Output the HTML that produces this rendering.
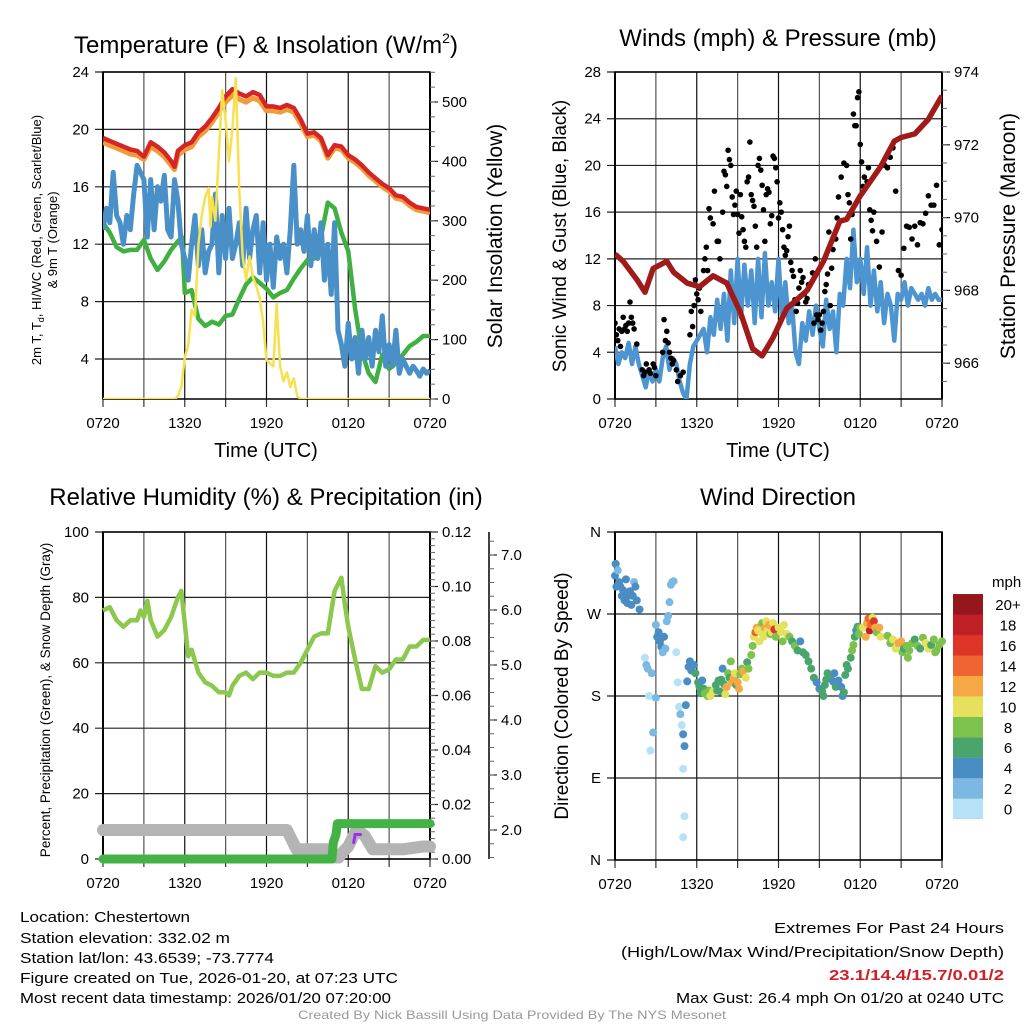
<!DOCTYPE html>
<html><head><meta charset="utf-8">
<style>
html,body{margin:0;padding:0;background:#fff;}
svg{display:block;font-family:"Liberation Sans",Arial,sans-serif;}
</style></head>
<body>
<svg id="fig" xmlns="http://www.w3.org/2000/svg" width="1024" height="1024" viewBox="0 0 1024 1024">
<rect width="1024" height="1024" fill="#fff"/>
<text x="266" y="53" font-size="24" text-anchor="middle">Temperature (F) &amp; Insolation (W/m<tspan font-size="14" dy="-10">2</tspan><tspan dy="10">)</tspan></text>
<text x="778" y="46" font-size="24" text-anchor="middle">Winds (mph) &amp; Pressure (mb)</text>
<text x="266" y="505" font-size="24" text-anchor="middle">Relative Humidity (%) &amp; Precipitation (in)</text>
<text x="778" y="505" font-size="24" text-anchor="middle">Wind Direction</text>

<text x="266" y="457" font-size="20" text-anchor="middle">Time (UTC)</text>
<text x="778" y="457" font-size="20" text-anchor="middle">Time (UTC)</text>

<text transform="translate(41,240) rotate(-90)" font-size="13" text-anchor="middle">2m T, T<tspan font-size="9" dy="3">d</tspan><tspan dy="-3">, HI/WC (Red, Green, Scarlet/Blue)</tspan></text>
<text transform="translate(57,240) rotate(-90)" font-size="13" text-anchor="middle">&amp; 9m T (Orange)</text>
<text transform="translate(502,236) rotate(-90)" font-size="21" text-anchor="middle">Solar Insolation (Yellow)</text>
<text transform="translate(566,236) rotate(-90)" font-size="19" text-anchor="middle">Sonic Wind &amp; Gust (Blue, Black)</text>
<text transform="translate(1015,236) rotate(-90)" font-size="21" text-anchor="middle">Station Pressure (Maroon)</text>
<text transform="translate(50,700) rotate(-90)" font-size="13.5" text-anchor="middle">Percent, Precipitation (Green), &amp; Snow Depth (Gray)</text>
<text transform="translate(568,696) rotate(-90)" font-size="19" text-anchor="middle">Direction (Colored By Speed)</text>

<g id="info" font-size="15">
<text x="20" y="922" textLength="170" lengthAdjust="spacingAndGlyphs">Location: Chestertown</text>
<text x="20" y="943" textLength="210" lengthAdjust="spacingAndGlyphs">Station elevation: 332.02 m</text>
<text x="20" y="963" textLength="254" lengthAdjust="spacingAndGlyphs">Station lat/lon: 43.6539; -73.7774</text>
<text x="20" y="983" textLength="378" lengthAdjust="spacingAndGlyphs">Figure created on Tue, 2026-01-20, at 07:23 UTC</text>
<text x="20" y="1003" textLength="371" lengthAdjust="spacingAndGlyphs">Most recent data timestamp: 2026/01/20 07:20:00</text>
<text x="1004" y="933" text-anchor="end" textLength="230" lengthAdjust="spacingAndGlyphs">Extremes For Past 24 Hours</text>
<text x="1004" y="957" text-anchor="end" textLength="383" lengthAdjust="spacingAndGlyphs">(High/Low/Max Wind/Precipitation/Snow Depth)</text>
<text x="1004" y="980" text-anchor="end" fill="#d0202a" font-weight="bold" textLength="175" lengthAdjust="spacingAndGlyphs">23.1/14.4/15.7/0.01/2</text>
<text x="1004" y="1003" text-anchor="end" textLength="328" lengthAdjust="spacingAndGlyphs">Max Gust: 26.4 mph On 01/20 at 0240 UTC</text>
<text x="512" y="1019" text-anchor="middle" font-size="12" fill="#999" textLength="428" lengthAdjust="spacingAndGlyphs">Created By Nick Bassill Using Data Provided By The NYS Mesonet</text>
</g>
</svg>
<script>
// ---------- data (hours after 0720 UTC) ----------
const xTickLabels = ['0720','1320','1920','0120','0720'];
const tempHours = [0,0.5,1,1.5,2,2.5,3,3.5,4,4.5,5,5.25,5.5,6,6.5,7,7.5,8,8.5,9,9.5,10,10.5,11,11.5,12,12.5,13,13.5,14,14.5,15,15.5,16,16.5,17,17.5,18,18.5,19,19.5,20,20.5,21,21.5,22,22.5,23,24];
const tempF = [19.4,19.2,19.0,18.8,18.6,18.5,18.1,19.1,18.8,18.4,17.8,17.4,18.5,18.9,19.1,19.8,20.2,20.8,21.5,22.3,22.8,22.5,22.3,22.6,22.4,21.6,21.6,21.5,21.7,21.5,20.7,19.7,19.8,19.4,18.2,18.9,18.8,18.2,17.9,17.5,17.0,16.6,16.2,15.9,15.4,15.3,14.9,14.6,14.4];
const temp9mF = [19.2,19.0,18.8,18.6,18.4,18.3,18.0,18.9,18.6,18.2,17.6,17.3,18.3,18.7,18.9,19.6,20.0,20.6,21.3,22.0,22.5,22.2,22.0,22.3,22.1,21.4,21.4,21.3,21.5,21.3,20.5,19.6,19.7,19.3,18.1,18.8,18.7,18.1,17.8,17.4,16.9,16.5,16.1,15.8,15.3,15.2,14.8,14.5,14.3];
const dewHours = [0,0.5,1,1.5,2,2.5,3,3.5,4,4.5,5,5.5,5.8,6,6.5,7,7.5,8,8.5,9,9.5,10,10.5,11,11.5,12,12.5,13,13.5,14,14.5,15,15.5,16,16.5,17,17.5,18,18.5,19,19.5,20,20.5,21,21.5,22,22.5,23,23.5,24];
const dewF = [13.5,12.8,11.8,11.5,11.6,11.6,12.3,11.0,10.2,10.8,11.6,12.2,12.5,8.6,8.8,6.8,6.3,6.6,6.4,7.0,7.1,8.2,9.2,9.7,9.3,8.9,8.3,8.6,8.8,9.6,10.3,10.9,11.0,12.5,14.9,14.5,12.8,11.5,7.5,4.5,3.0,2.4,4.3,3.3,3.7,4.3,4.9,5.2,5.6,5.6];
const chillHours = [0,0.25,0.5,0.75,1,1.25,1.5,1.75,2,2.25,2.5,2.75,3,3.25,3.5,3.75,4,4.25,4.5,4.75,5,5.25,5.5,5.75,6,6.25,6.5,6.75,7,7.25,7.5,7.75,8,8.25,8.5,8.75,9,9.25,9.5,9.75,10,10.25,10.5,10.75,11,11.25,11.5,11.75,12,12.25,12.5,12.75,13,13.25,13.5,13.75,14,14.25,14.5,14.75,15,15.25,15.5,15.75,16,16.25,16.5,16.75,17,17.25,17.5,17.75,18,18.25,18.5,18.75,19,19.25,19.5,19.75,20,20.25,20.5,20.75,21,21.25,21.5,21.75,22,22.25,22.5,22.75,23,23.25,23.5,23.75,24];
const chillF = [13,14.5,13.5,17,14,13.5,12,14,13,15.5,17.5,17,16.5,12.5,16.5,13,16,15,16.8,13,12.5,16.5,15,12,11,9.5,12,14,10.5,13,10,11.5,12,15.5,10,14,11,14.5,11,12,13.5,10.5,14.5,11,13,14,10,13.5,9.5,12,9,12.5,11,12,10,13,17.5,12,13,11.5,14,10.5,13,11,13.5,9.5,12,8.5,13.5,6,5,3.5,6.5,4,5.5,3,6,4,5.5,3.5,6,4.5,7,3.5,5,3.5,6,3,4,3.5,3,3.5,3.2,2.8,3.3,3,3.2];
const solarHours = [0,5.3,5.5,5.75,6,6.25,6.5,6.75,7,7.25,7.5,7.75,7.9,8,8.25,8.5,8.75,9,9.25,9.5,9.75,10,10.25,10.5,10.75,11,11.25,11.5,11.75,12,12.25,12.5,12.75,13,13.25,13.5,13.75,14,14.25,14.5,24];
const solarW = [0,0,5,20,70,90,150,140,260,310,340,355,290,340,300,410,520,470,400,455,540,350,240,200,240,205,190,170,130,65,60,55,160,55,30,45,20,35,5,0,0];

const windHours = chillHours;
const windMph = [4.5,3,4,3.5,4.8,3,4.5,3,2,1,2.5,1.5,2.5,1.5,3.5,4.5,2.5,3.5,3,1.5,0.5,0,3,4.5,5,5.5,6,4,7,5.5,8.5,6,9,5,11,6.5,12,7,11.5,8,11,6.5,12,7,12.5,8,10,7.5,12,7,10,6.5,8,4,3,6.5,5,7.5,5.5,8,6,4.5,8.5,6,7.5,4,9,8,12,9.5,14.5,10,12,9,13,8,11,7.5,10,6.5,9,8,5,9,8.5,10,8,9.5,9,8.5,9,8,9.5,8.5,9,8.5,8.5];
const gustHours = [0,0.1,0.2,0.3,0.4,0.5,0.6,0.7,0.8,0.9,1.0,1.1,1.2,1.3,1.4,1.6,2.0,2.1,2.2,2.3,2.5,2.6,2.8,2.9,3.0,3.5,3.6,3.7,3.8,3.9,4.0,4.1,4.2,4.3,4.5,4.6,4.8,5.0,5.5,5.6,5.7,5.8,5.9,6.0,6.1,6.2,6.3,6.5,6.6,6.7,6.8,6.9,7.0,7.2,7.3,7.5,7.6,7.7,7.9,8.0,8.1,8.2,8.3,8.4,8.5,8.6,8.7,8.8,8.9,9.0,9.1,9.2,9.3,9.4,9.5,9.6,9.7,9.8,9.9,10.0,10.1,10.2,10.3,10.4,10.5,10.6,10.7,10.8,10.9,11.0,11.1,11.2,11.3,11.4,11.5,11.6,11.7,11.8,11.9,12.0,12.1,12.2,12.3,12.4,12.5,12.6,12.7,12.8,12.9,13.0,13.1,13.2,13.3,13.4,13.5,13.6,13.7,13.8,13.9,14.0,14.1,14.2,14.5,14.6,14.7,14.8,14.9,15.0,15.1,15.2,15.3,15.4,15.5,15.6,15.7,15.8,15.9,16.0,16.2,16.3,16.4,16.6,16.8,17.0,17.1,17.2,17.3,17.4,17.5,17.6,17.7,17.8,17.9,18.0,18.1,18.2,18.3,18.5,18.6,18.7,18.8,18.9,19.0,19.2,19.4,19.6,19.8,20.0,20.2,20.4,20.6,20.8,21.0,21.2,21.4,21.6,21.8,22.0,22.2,22.4,22.6,22.8,23.0,23.2,23.4,23.6,23.8,24.0];
const gustMph = [6.5,5.5,5,6,4.5,5.8,7,6,6.3,5.8,6.5,8.3,7,6.5,6,4.7,2.5,2,2.3,3,2.5,2.2,3,2.7,2,4,6.8,5,5.8,4.8,4,3.5,3,3.3,2.5,1.5,2,2.3,5.5,7.5,6.2,8,10.2,9,8.5,9.5,7.5,11,12,13,11,16.3,15.5,15,17.8,13.5,13.5,12,16,19.5,19.2,18.2,21.3,20.5,20,17.3,15.8,16.6,17.8,15.8,14.2,17.5,15.6,14.5,13.5,13,18.6,19,22,17.5,17,16.5,14.8,13,20,20.6,19.6,18.3,16.2,13.5,17.5,18,17.7,15,15.7,20.8,20.6,19.8,18.6,15.5,16.8,16,14.5,13,12.3,12.7,13.9,14.8,11.7,11,10.5,8.5,7.5,8.2,9.5,11,10,10.4,9,8.3,8.6,9.8,10.8,6.5,12,7.2,6.8,7.2,5.9,6.5,7.5,9.2,9.8,10.7,14.3,8,11.2,12.8,13.7,15.5,17.3,19,20.2,20,17.5,16.8,13.7,15.8,24.4,23.4,23.4,25.8,26.3,21.8,20.3,18.2,19,18.6,19.8,16.2,15.3,14.4,16,13.5,11.3,14.3,20,19.8,20.7,21.5,17.8,11,10.6,12.9,14.8,14.7,13.7,14.8,13.2,15.1,15,15.9,17.4,16.6,16.6,18.3,13.2,14.5,12,14.5,13.6,12.1,12.7,12.4,14.4,13];
const presHours = [0,0.6,1.6,2.2,2.8,3.8,4.3,5.3,6.2,7.2,8.2,9.2,10.1,10.8,11.6,12.6,14.1,15.3,16.5,17,18,19.5,20.5,21,22,23,24];
const presMb = [969.0,968.8,968.3,967.95,968.6,968.8,968.5,968.2,968.1,968.4,968.2,967.4,966.4,966.2,966.7,967.5,968.0,968.8,969.9,969.95,970.6,971.4,972.1,972.2,972.3,972.7,973.35];

const rhHours = [0,0.5,1,1.5,2,2.5,2.75,3,3.25,3.5,4,4.5,5,5.5,5.75,6,6.25,6.5,7,7.5,8,8.5,9,9.25,9.5,10,10.5,11,11.5,12,12.5,13,13.5,14,14.5,15,15.5,16,16.5,17,17.5,17.75,18,18.5,19,19.5,20,20.5,21,21.5,22,22.5,23,23.5,24];
const rhPct = [76,77,73,71,73,73,76,74,79,73,68,70,74,80,82,72,62,64,57,54,53,51,51,50,53,56,57,55,57,57,56,56,57,57,60,64,68,69,69,82,86,78,71,61,52,52,59,57,58,61,61,65,65,67,67];
const snowHours = [0,13.5,14.2,16.5,17.0,17.3,17.6,18.0,18.6,19.2,19.8,20.5,22,23.5,24];
const snowIn = [2.0,2.0,1.65,1.65,1.5,1.5,1.6,1.7,2.0,1.9,1.65,1.65,1.65,1.7,1.7];
const precipHours = [0,16.8,16.9,17.1,17.2,24];
const precipIn = [0,0,0.006,0.009,0.013,0.013];
const precipRateHours = [18.4,18.5,18.9];
const precipRateIn = [0.006,0.009,0.009];

const dirHours = [0,0.05,0.1,0.2,0.3,0.4,0.5,0.6,0.7,0.8,0.9,1.0,1.1,1.2,1.3,1.4,1.5,1.6,1.8,2.2,2.3,2.4,2.5,2.6,2.7,2.8,3.0,3.0,3.1,3.2,3.3,3.4,3.5,3.6,3.7,3.8,3.9,4.0,4.1,4.2,4.3,4.5,4.6,4.7,4.8,4.9,5.0,5.1,5.0,5.1,5.0,5.2,5.3,5.4,5.5,5.6,5.8,5.9,6.1,6.2,6.3,6.4,6.5,6.6,6.8,6.9,7.0,7.2,7.4,7.5,7.6,7.7,7.8,7.9,8.0,8.1,8.2,8.3,8.4,8.5,8.6,8.7,8.8,8.9,9.0,9.1,9.2,9.3,9.4,9.6,9.7,9.8,10.0,10.1,10.2,10.3,10.4,10.5,10.6,10.7,10.8,10.9,11.0,11.1,11.2,11.3,11.4,11.5,11.6,11.7,11.8,12.0,12.2,12.3,12.4,12.6,12.8,13.0,13.2,13.4,13.6,13.8,14.0,14.2,14.4,14.6,14.8,15.0,15.2,15.3,15.4,15.5,15.6,15.8,16.0,16.1,16.2,16.4,16.6,16.7,16.8,16.9,17.0,17.1,17.3,17.4,17.5,17.6,17.7,17.8,17.9,18.0,18.2,18.4,18.5,18.6,18.7,18.8,18.9,19.0,19.1,19.2,19.4,19.5,20.0,20.2,20.4,20.6,20.8,21.0,21.1,21.2,21.4,21.5,21.6,21.8,22.0,22.2,22.4,22.6,22.8,23.0,23.2,23.4,23.5,23.6,23.8,24.0];
const dirDeg = [312,325,300,318,305,300,290,296,285,308,282,290,295,280,290,305,300,285,275,222,214,210,180,120,205,140,178,258,245,250,240,234,228,245,232,262,268,283,302,305,306,228,195,168,160,148,138,125,100,48,25,170,196,212,218,208,214,205,195,190,183,197,188,183,180,186,180,185,192,186,197,185,198,210,193,182,190,205,200,218,195,200,205,192,195,188,204,210,207,200,217,210,225,235,245,250,255,252,240,250,260,245,255,262,252,258,248,250,260,253,245,255,250,240,258,248,245,240,235,230,240,228,225,218,210,200,195,188,185,180,192,198,205,200,196,205,190,197,190,180,184,203,214,210,222,230,236,245,252,256,248,255,255,245,260,265,252,258,266,262,255,250,255,245,246,238,242,232,238,240,228,232,235,222,230,238,242,235,232,244,238,232,236,242,228,230,236,240];
const dirSpd = [4,4,4,2,3,4,4,3,4,4,4,3,4,4,4,2,3,4,3,0,2,2,0,0,2,2,1,2,3,4,4,3,2,4,2,2,2,2,2,2,2,0,0,0,1,0,3,3,0,0,0,3,4,4,4,4,4,5,6,6,6,4,6,8,8,8,9,10,6,5,6,6,6,4,5,10,12,7,6,7,12,12,10,6,12,12,8,8,11,9,6,8,7,8,9,13,12,10,10,10,8,9,11,10,9,12,8,10,9,15,8,9,10,8,9,10,7,6,7,6,4,6,5,6,6,5,4,4,5,6,6,5,6,5,4,4,5,4,4,4,5,6,5,6,6,7,7,6,4,6,7,8,10,12,12,14,18,13,10,16,12,8,12,10,8,8,9,10,12,11,8,6,7,8,8,7,6,8,6,8,10,10,6,8,7,8,8,8];
const speedBinLabels = ['0','2','4','6','8','10','12','14','16','18','20+'];
const speedBinColors = ['#b5e2f6','#7bb9e2','#4a8dc5','#4aa56c','#7dc24d','#e6e15c','#f6a845','#ef6430','#de3528','#c01f28','#95171b'];

// ---------- helpers ----------
const NS = 'http://www.w3.org/2000/svg';
const svg = document.getElementById('fig');
function mk(tag, attrs, parent) {
  const e = document.createElementNS(NS, tag);
  for (const k in attrs) e.setAttribute(k, attrs[k]);
  (parent || svg).appendChild(e);
  return e;
}
function group(name) {
  const g = mk('g', {});
  
  
  return g;
}
function linScale(d0, d1, r0, r1) { return v => r0 + (v - d0) / (d1 - d0) * (r1 - r0); }
function pathFrom(hs, vs, xs, ys) {
  let d = '';
  for (let i = 0; i < hs.length; i++) d += (i ? 'L' : 'M') + xs(hs[i]).toFixed(1) + ',' + ys(vs[i]).toFixed(1);
  return d;
}

function drawFrame(name, x0, x1, y0, y1, yTicks, yScale, yFmt, minorStep) {
  const g = group(name + '-axes');
  // vertical grid every 3h
  const xs = linScale(0, 24, x0, x1);
  for (let h = 0; h <= 24; h += 3) {
    const gl = mk('line', {x1: xs(h), x2: xs(h), y1: y0, y2: y1, stroke: (h % 6 === 0) ? '#111' : '#555', 'stroke-width': (h === 0 || h === 24) ? 2 : 1.2}, g);
    
    
    const tk = mk('line', {x1: xs(h), x2: xs(h), y1: y1, y2: y1 + 8, stroke: '#333', 'stroke-width': 1.2}, g);
    
    
  }
  for (let i = 0; i < xTickLabels.length; i++) {
    const t = mk('text', {x: xs(i * 6), y: y1 + 29, 'font-size': 15, 'text-anchor': 'middle'}, g);
    
    
    t.textContent = xTickLabels[i];
  }
  for (const v of yTicks) {
    const y = yScale(v);
    const gl = mk('line', {x1: x0 - 8, x2: x1, y1: y, y2: y, stroke: '#222', 'stroke-width': 1.2}, g);
    
    
    const t = mk('text', {x: x0 - 14, y: y + 5, 'font-size': 15, 'text-anchor': 'end'}, g);
    
    
    t.textContent = yFmt(v);
  }
  if (minorStep) {
    for (let v = yTicks[0] + minorStep; v < yTicks[yTicks.length - 1]; v += 2 * minorStep) {
      const mt = mk('line', {x1: x0 - 5, x2: x0, y1: yScale(v), y2: yScale(v), stroke: '#555', 'stroke-width': 1}, g);
      
      
    }
  }
  const bx = mk('rect', {x: x0, y: y0, width: x1 - x0, height: y1 - y0, fill: 'none', stroke: '#000', 'stroke-width': 1.5}, g);
  
  
  return xs;
}
function rightAxis(name, x, y0, y1, ticks, scale, fmt, minor) {
  const g = group(name);
  const ax = mk('line', {x1: x, x2: x, y1: y0, y2: y1, stroke: '#000', 'stroke-width': 1.5}, g);
  
  
  for (const v of ticks) {
    const tk = mk('line', {x1: x, x2: x + 8, y1: scale(v), y2: scale(v), stroke: '#222', 'stroke-width': 1.2}, g);
    
    
    const t = mk('text', {x: x + 12, y: scale(v) + 5, 'font-size': 15}, g);
    
    
    t.textContent = fmt(v);
  }
  for (const v of minor) {
    const y = scale(v);
    if (y < Math.min(y0, y1) || y > Math.max(y0, y1)) continue;
    const mt = mk('line', {x1: x, x2: x + 5, y1: y, y2: y, stroke: '#666', 'stroke-width': 1}, g);
    
    
  }
}

// ---------- Panel 1: temperature ----------
const tY = linScale(24, 0, 72, 72 + 24 * 14.35);
const sY = linScale(0, 500, 399, 102);
const x1s = drawFrame('temperature', 103, 430, 72, 399, [24, 20, 16, 12, 8, 4], tY, v => v, 2);
const minorIns = []; for (let v = 0; v <= 550; v += 25) minorIns.push(v);
rightAxis('insolation-axis', 430, 72, 399, [0, 100, 200, 300, 400, 500], sY, v => v, minorIns);
const clipT = mk('clipPath', {id: 'clipT'}); mk('rect', {x: 103, y: 72, width: 327, height: 327}, clipT);
const gT = group('temperature-series'); gT.setAttribute('clip-path', 'url(#clipT)');
let el;
el = mk('path', {d: pathFrom(tempHours, temp9mF, x1s, tY), fill: 'none', stroke: '#f39a3a', 'stroke-width': 5, 'stroke-linejoin': 'round', transform: 'translate(0,1.5)'}, gT);


el = mk('path', {d: pathFrom(tempHours, tempF, x1s, tY), fill: 'none', stroke: '#d42626', 'stroke-width': 4.5, 'stroke-linejoin': 'round'}, gT);


el = mk('path', {d: pathFrom(dewHours, dewF, x1s, tY), fill: 'none', stroke: '#40b040', 'stroke-width': 4.5, 'stroke-linejoin': 'round'}, gT);


el = mk('path', {d: pathFrom(chillHours, chillF, x1s, tY), fill: 'none', stroke: '#4a90c8', 'stroke-width': 5, 'stroke-linejoin': 'round'}, gT);


el = mk('path', {d: pathFrom(solarHours, solarW, x1s, sY), fill: 'none', stroke: '#f8e04e', 'stroke-width': 2.5, 'stroke-linejoin': 'round'}, gT);



// ---------- Panel 2: winds ----------
const wY = linScale(0, 28, 399, 72);
const pY = linScale(974, 966, 72, 72 + 8 * 36.4);
const x2s = drawFrame('winds', 615, 942, 72, 399, [28, 24, 20, 16, 12, 8, 4, 0], wY, v => v, 2);
const minorP = []; for (let v = 965; v <= 974; v += 0.5) minorP.push(v);
rightAxis('pressure-axis', 942, 72, 399, [966, 968, 970, 972, 974], pY, v => v, minorP);
const clipW = mk('clipPath', {id: 'clipW'}); mk('rect', {x: 615, y: 72, width: 327, height: 327}, clipW);
const gW = group('wind-series'); gW.setAttribute('clip-path', 'url(#clipW)');
el = mk('path', {d: pathFrom(windHours, windMph, x2s, wY), fill: 'none', stroke: '#4d95d0', 'stroke-width': 4.5, 'stroke-linejoin': 'round'}, gW);


for (let i = 0; i < gustHours.length; i++) {
  const c = mk('circle', {cx: x2s(gustHours[i]), cy: wY(gustMph[i]), r: 2.8, fill: '#000'}, gW);
  
  
}
el = mk('path', {d: pathFrom(presHours, presMb, x2s, pY), fill: 'none', stroke: '#a01a1a', 'stroke-width': 5.5, 'stroke-linejoin': 'round'}, gW);



// ---------- Panel 3: humidity ----------
const rY = linScale(0, 100, 859, 532);
const prY = linScale(0, 0.12, 859, 532);
const snY = linScale(2, 7, 830, 555);
const x3s = drawFrame('humidity', 103, 430, 532, 859, [100, 80, 60, 40, 20, 0], rY, v => v, 10);
const minorPr = []; for (let v = 0; v <= 0.12; v += 0.0025) minorPr.push(v);
rightAxis('precipitation-axis', 430, 532, 859, [0, 0.02, 0.04, 0.06, 0.08, 0.10, 0.12], prY, v => v.toFixed(2), minorPr);
const minorSn = []; for (let v = 1.5; v <= 7.4; v += 0.25) minorSn.push(v);
rightAxis('snow-depth-axis', 489, 532, 859, [2, 3, 4, 5, 6, 7], snY, v => v.toFixed(1), minorSn);
const gH = group('humidity-series');
el = mk('path', {d: pathFrom(snowHours, snowIn, x3s, snY), fill: 'none', stroke: '#b4b4b4', 'stroke-width': 12, 'stroke-linecap': 'round', 'stroke-linejoin': 'round'}, gH);


el = mk('path', {d: pathFrom(precipHours, precipIn, x3s, prY), fill: 'none', stroke: '#44b244', 'stroke-width': 9, 'stroke-linecap': 'round', 'stroke-linejoin': 'round'}, gH);


el = mk('path', {d: pathFrom(precipRateHours, precipRateIn, x3s, prY), fill: 'none', stroke: '#9b30e8', 'stroke-width': 3, 'stroke-linecap': 'round'}, gH);


el = mk('path', {d: pathFrom(rhHours, rhPct, x3s, rY), fill: 'none', stroke: '#8cc84e', 'stroke-width': 4.5, 'stroke-linejoin': 'round'}, gH);



// ---------- Panel 4: wind direction ----------
const dY = linScale(0, 360, 860, 532);
const dirLabels = ['N', 'E', 'S', 'W', 'N'];
const x4s = drawFrame('direction', 615, 942, 532, 860, [0, 90, 180, 270, 360], dY, v => dirLabels[v / 90], 0);
const gD = group('direction-points');
for (let i = 0; i < dirHours.length; i++) {
  const bin = Math.min(10, Math.round(dirSpd[i] / 2));
  const c = mk('circle', {cx: x4s(dirHours[i]), cy: dY(dirDeg[i]), r: 4, fill: speedBinColors[bin]}, gD);
  
  
}
const gC = group('speed-colorbar');
for (let i = 0; i < speedBinLabels.length; i++) {
  const yTop = 819 - (i + 1) * 20.45;
  const r = mk('rect', {x: 953, y: yTop, width: 30, height: 20.6, fill: speedBinColors[i]}, gC);
  
  
  const t = mk('text', {x: 1008, y: yTop + 16, 'font-size': 15, 'text-anchor': 'middle'}, gC);
  
  
  t.textContent = speedBinLabels[i];
}
el = mk('text', {x: 992, y: 587, 'font-size': 15}, gC);


el.textContent = 'mph';
</script>
</body></html>
